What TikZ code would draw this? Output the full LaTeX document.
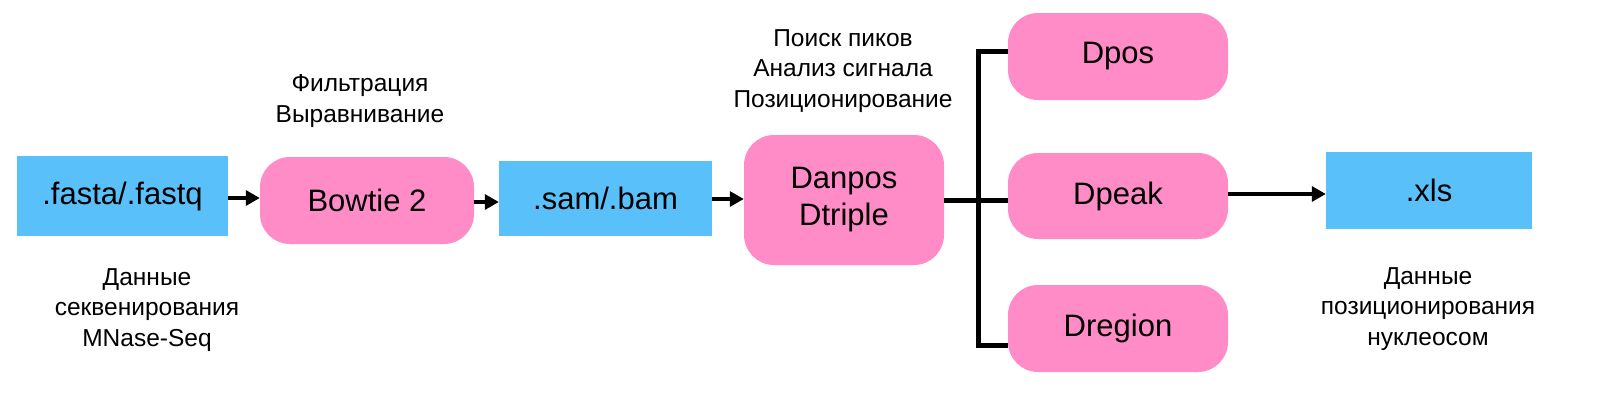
\documentclass[tikz,border=0pt]{standalone}
\usepackage{fontspec}
\setmainfont{Liberation Sans}
\usetikzlibrary{arrows.meta}
\definecolor{fileblue}{RGB}{90,192,250}
\definecolor{toolpink}{RGB}{255,139,199}
\begin{document}
\begin{tikzpicture}[x=1pt,y=-1pt,
  filebox/.style={fill=fileblue,draw=none,inner sep=0pt,font=\fontsize{31}{35}\selectfont},
  toolbox/.style={fill=toolpink,draw=none,rounded corners=30pt,inner sep=0pt,align=center,font=\fontsize{31}{37}\selectfont},
  lbl/.style={align=center,inner sep=0pt,font=\fontsize{24.5}{30.5}\selectfont},
  arr/.style={line width=3.2pt,-{Triangle[length=14pt,width=15pt]}},
  brk/.style={line width=5pt}]
\useasboundingbox (0,0) rectangle (1601,407);
\node[filebox,minimum width=211pt,minimum height=80pt] (fasta) at (122.5,196) {.fasta/.fastq};
\node[toolbox,minimum width=214pt,minimum height=87pt] (bowtie) at (367,200.5) {Bowtie 2};
\node[filebox,minimum width=213pt,minimum height=75pt] (sam) at (605.5,198.5) {.sam/.bam};
\node[toolbox,minimum width=200pt,minimum height=130pt] (danpos) at (844,200) {Danpos\\Dtriple};
\node[toolbox,minimum width=220pt,minimum height=87pt] (dpos) at (1118,56.5) {Dpos};
\node[toolbox,minimum width=220pt,minimum height=86pt] (dpeak) at (1118,196) {Dpeak};
\node[toolbox,minimum width=220pt,minimum height=87pt] (dregion) at (1118,328.5) {Dregion};
\node[filebox,minimum width=206pt,minimum height=77pt] (xls) at (1429,190.5) {.xls};

\node[lbl] (l1) at (360,101) {Фильтрация\\Выравнивание};
\node[lbl] (l2) at (147,310) {Данные\\секвенирования\\MNase-Seq};
\node[lbl] (l3) at (843,71) {Поиск пиков\\Анализ сигнала\\Позиционирование};
\node[lbl] (l4) at (1428,309) {Данные\\позиционирования\\нуклеосом};

\draw[arr] (fasta.east |- 0,198) -- (bowtie.west |- 0,198);
\draw[arr] (bowtie.east |- 0,202) -- (sam.west |- 0,202);
\draw[arr] (sam.east |- 0,199) -- (danpos.west |- 0,199);
\draw[arr] (dpeak.east |- 0,194) -- (xls.west |- 0,194);

\coordinate (j) at (978,200);
\coordinate (jt) at (978,51);
\coordinate (jb) at (978,345);
\draw[brk] (danpos.east |- j) -- (j -| dpeak.west);
\draw[brk,line join=miter] (jt -| dpos.west) -- (jt) -- (jb) -- (jb -| dregion.west);
\end{tikzpicture}
\end{document}
